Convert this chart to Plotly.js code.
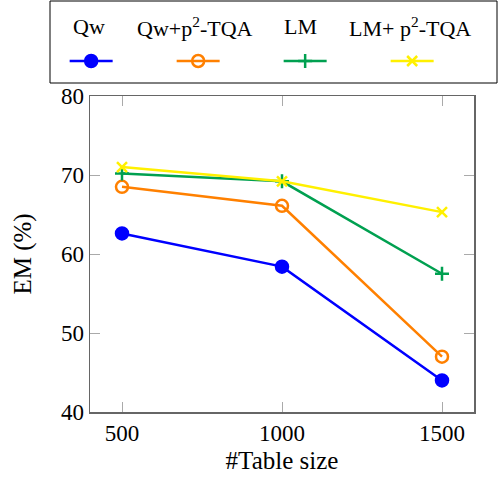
<!DOCTYPE html>
<html>
<head>
<meta charset="utf-8">
<script src="https://cdn.plot.ly/plotly-3.0.1.min.js"></script>
<style>html,body{margin:0;padding:0;background:#fff;}#chart{width:498px;height:477px;}</style>
</head>
<body>
<div id="chart"></div>
<script>
const tableSize = [500, 1000, 1500];
const seriesNames = ["Qw", "Qw+p<sup>2</sup>-TQA", "LM", "LM+ p<sup>2</sup>-TQA"];
const qw = [62.6, 58.4, 44.0];
const qwTqa = [68.5, 66.1, 47.0];
const lm = [70.2, 69.2, 57.5];
const lmTqa = [71.0, 69.2, 65.3];
const xTicks = [500, 1000, 1500];
const yTicks = [40, 50, 60, 70, 80];

const colors = ["#0000ff", "#ff8000", "#00a050", "#fff000"];
const symbols = ["circle", "circle-open", "cross-thin-open", "x-thin-open"];
const sizes = [12, 12, 10, 10];
const values = [qw, qwTqa, lm, lmTqa];

const traces = values.map((v, i) => ({
  x: tableSize, y: v, name: "", type: "scatter", mode: "lines+markers",
  line: {color: colors[i], width: 2.5},
  marker: {symbol: symbols[i], size: sizes[i], color: colors[i], line: {color: colors[i], width: 2.5}}
}));

const font = "'Liberation Serif', 'DejaVu Serif', serif";
const legendTextX = [89, 195, 300, 410];
const annotations = seriesNames.map((n, i) => ({
  xref: "paper", yref: "paper", x: (legendTextX[i] - 90) / 384, y: (412 - 27) / 316,
  text: n, showarrow: false, xanchor: "center", yanchor: "middle",
  font: {family: font, size: 22, color: "#000"}
}));

const layout = {
  width: 498, height: 477,
  margin: {l: 90, r: 24, t: 96, b: 65},
  paper_bgcolor: "#fff", plot_bgcolor: "#fff",
  font: {family: font, size: 20, color: "#000"},
  showlegend: true,
  legend: {
    orientation: "h", x: -0.066, xanchor: "left", y: (412 - 61) / 316, yanchor: "middle",
    font: {size: 10, color: "#000"}, itemwidth: 43,
    entrywidth: 49, entrywidthmode: "pixels", bgcolor: "rgba(0,0,0,0)", borderwidth: 0
  },
  xaxis: {
    range: [400, 1600], tickvals: xTicks, ticktext: xTicks.map(String),
    showgrid: false, zeroline: false, showline: true, linecolor: "#666", linewidth: 1.5,
    mirror: "allticks", ticks: "inside", ticklen: 10, tickcolor: "#aaa", tickwidth: 1,
    tickfont: {size: 23}, title: {text: "#Table size", font: {size: 25}, standoff: 6}
  },
  yaxis: {
    range: [40, 80], tickvals: yTicks, ticktext: yTicks.map(String),
    showgrid: false, zeroline: false, showline: true, linecolor: "#666", linewidth: 1.5,
    mirror: "allticks", ticks: "inside", ticklen: 10, tickcolor: "#aaa", tickwidth: 1,
    tickfont: {size: 23}, title: {text: "EM (%)", font: {size: 25}, standoff: 22}
  },
  shapes: [{
    type: "rect", xref: "paper", yref: "paper",
    x0: (50 - 90) / 384, x1: (497 - 90) / 384, y0: (412 - 83) / 316, y1: (412 - 1) / 316,
    line: {color: "#000", width: 1}, fillcolor: "rgba(0,0,0,0)"
  }],
  annotations: annotations
};

Plotly.newPlot("chart", traces, layout, {displayModeBar: false, staticPlot: true});
</script>
</body>
</html>
